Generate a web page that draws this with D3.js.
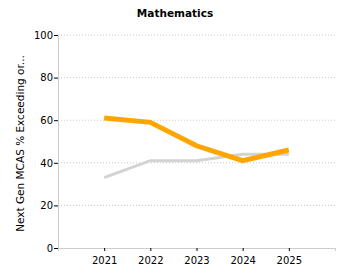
<!DOCTYPE html>
<html>
<head>
<meta charset="utf-8">
<script src="https://cdn.jsdelivr.net/npm/d3@7"></script>
<style>
    body { margin: 0; background: #fff; }
    svg { display: block; font-family: "DejaVu Sans", Verdana, sans-serif; }
</style>
</head>
<body>
<script>
// years and scores (% meeting or exceeding)
const years = [2021, 2022, 2023, 2024, 2025];
const schoolScores = [61, 59, 48, 41, 46];
const stateScores = [33, 41, 41, 44, 44];
const yTicks = [0, 20, 40, 60, 80, 100];

const width = 350, height = 280;
const margin = { top: 35, right: 15, bottom: 32, left: 58 };

const svg = d3.select('body')
    .append('svg')
    .attr('width', width)
    .attr('height', height);

const x = d3.scaleLinear()
    .domain([2020, 2026])
    .range([margin.left, width - margin.right]);

const y = d3.scaleLinear()
    .domain([0, 100])
    .range([height - margin.bottom, margin.top]);

// dotted grid
svg.append('g')
    .selectAll('line')
    .data(yTicks.slice(1))
    .enter()
    .append('line')
    .attr('x1', margin.left)
    .attr('x2', width - margin.right)
    .attr('y1', d => y(d))
    .attr('y2', d => y(d))
    .attr('stroke', '#c8c8c8')
    .attr('stroke-dasharray', '1,2');

const yAxis = svg.append('g')
    .attr('transform', `translate(${margin.left},0)`)
    .call(d3.axisLeft(y).tickValues(yTicks).tickSize(4).tickSizeOuter(0));

const xAxis = svg.append('g')
    .attr('transform', `translate(0,${height - margin.bottom})`)
    .call(d3.axisBottom(x).tickValues(years).tickFormat(d3.format('d')).tickSize(3).tickSizeOuter(3));

[yAxis, xAxis].forEach(a => {
    a.select('.domain').attr('stroke', '#cccccc');
    a.selectAll('.tick line').attr('stroke', '#000');
    a.selectAll('text').attr('fill', '#000').style('font-size', '10px')
        .style('font-family', '"DejaVu Sans", Verdana, sans-serif');
});
xAxis.selectAll('text').attr('dy', '0.95em');
yAxis.selectAll('text').attr('x', -5);

const line = d3.line()
    .x((d, i) => x(years[i]))
    .y(d => y(d));

svg.append('path')
    .datum(stateScores)
    .attr('d', line)
    .attr('fill', 'none')
    .attr('stroke', '#d3d3d3')
    .attr('stroke-width', 3);

svg.append('path')
    .datum(schoolScores)
    .attr('d', line)
    .attr('fill', 'none')
    .attr('stroke', '#ffa500')
    .attr('stroke-width', 5);

svg.append('text')
    .attr('x', width / 2)
    .attr('y', 17)
    .attr('text-anchor', 'middle')
    .style('font-size', '10.5px')
    .style('font-weight', 'bold')
    .text('Mathematics');

svg.append('text')
    .attr('transform', `translate(24,${(margin.top + height - margin.bottom) / 2 + 2}) rotate(-90)`)
    .attr('text-anchor', 'middle')
    .style('font-size', '10.5px')
    .text('Next Gen MCAS % Exceeding or...');
</script>
</body>
</html>
